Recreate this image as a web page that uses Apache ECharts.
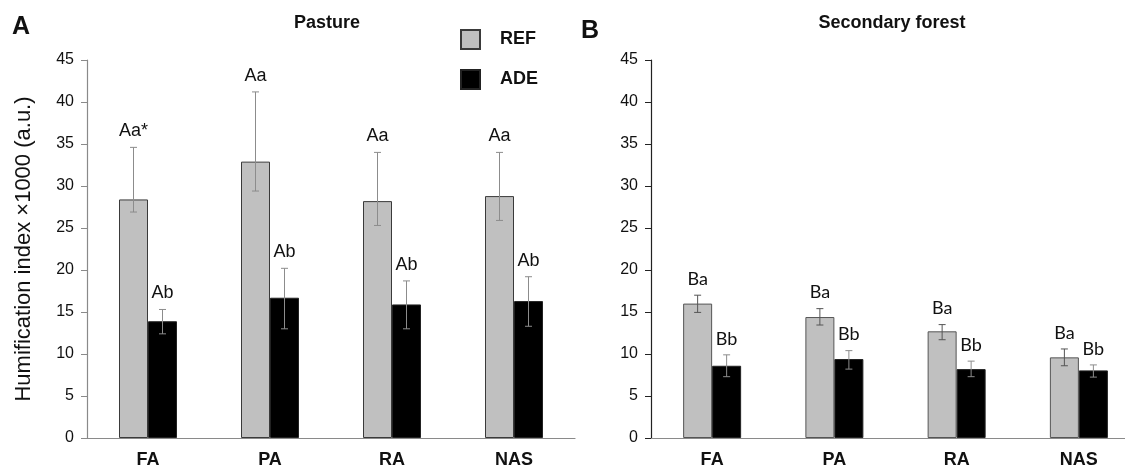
<!DOCTYPE html>
<html>
<head>
<meta charset="utf-8">
<script src="https://cdn.jsdelivr.net/npm/echarts@6/dist/echarts.min.js"></script>
<style>
  html, body { margin: 0; padding: 0; background: #fff; }
  #chart { width: 1125px; height: 470px; }
</style>
</head>
<body>
<div id="chart"></div>
<script>
// ---- data ----
const categories = ['FA', 'PA', 'RA', 'NAS'];
const seriesNames = ['REF', 'ADE'];

const pastureREF      = [28.4, 32.9, 28.2, 28.8];
const pastureREFLow   = [26.9, 29.4, 25.3, 25.9];
const pastureREFHigh  = [34.6, 41.2, 34.0, 34.0];
const pastureADE      = [13.9, 16.7, 15.9, 16.3];
const pastureADELow   = [12.4, 13.0, 13.0, 13.3];
const pastureADEHigh  = [15.3, 20.2, 18.7, 19.2];

const forestREF       = [16.0, 14.4, 12.7, 9.6];
const forestREFLow    = [14.95, 13.45, 11.7, 8.6];
const forestREFHigh   = [17.0, 15.4, 13.5, 10.6];
const forestADE       = [8.6, 9.4, 8.2, 8.05];
const forestADELow    = [7.3, 8.2, 7.3, 7.25];
const forestADEHigh   = [9.9, 10.4, 9.15, 8.7];

const pastureREFLetters = ['Aa*', 'Aa', 'Aa', 'Aa'];
const pastureADELetters = ['Ab', 'Ab', 'Ab', 'Ab'];
const forestREFLetters  = ['Ba', 'Ba', 'Ba', 'Ba'];
const forestADELetters  = ['Bb', 'Bb', 'Bb', 'Bb'];

const yMin = 0, yMax = 45, yStep = 5;
const panelTitles = ['Pasture', 'Secondary forest'];
const panelLetters = ['A', 'B'];
const yAxisTitle = 'Humification index \u00d71000 (a.u.)';

// ---- rendering ----
const BAR_W = 29;
const FONT = '"Liberation Sans", Arial, sans-serif';

function errData(low, high, letters) {
  return categories.map((c, i) => [i, low[i], high[i], letters[i]]);
}

function errSeries(gridIdx, low, high, letters, side, color, labelFont) {
  return {
    type: 'custom',
    xAxisIndex: gridIdx, yAxisIndex: gridIdx,
    data: errData(low, high, letters),
    encode: { x: 0, y: [1, 2] },
    clip: false,
    z: 5,
    silent: true,
    renderItem: function (params, api) {
      const lo = api.coord([api.value(0), api.value(1)]);
      const hi = api.coord([api.value(0), api.value(2)]);
      const x = lo[0] + side * BAR_W / 2;
      const cap = 3.5;
      const style = { stroke: color, lineWidth: 1 };
      return {
        type: 'group',
        children: [
          { type: 'line', shape: { x1: x, y1: lo[1], x2: x, y2: hi[1] }, style: style },
          { type: 'line', shape: { x1: x - cap, y1: hi[1], x2: x + cap, y2: hi[1] }, style: style },
          { type: 'line', shape: { x1: x - cap, y1: lo[1], x2: x + cap, y2: lo[1] }, style: style },
          { type: 'text', style: {
              text: api.value(3), x: x, y: hi[1] - 7,
              align: 'center', verticalAlign: 'bottom',
              font: '18px ' + labelFont, fill: '#111'
          } }
        ]
      };
    }
  };
}

function barSeries(gridIdx, name, data, color, border) {
  return {
    type: 'bar', name: name,
    xAxisIndex: gridIdx, yAxisIndex: gridIdx,
    data: data, barWidth: BAR_W, barGap: '0%',
    itemStyle: { color: color, borderColor: border, borderWidth: 1 },
    z: 2
  };
}

function xAxis(gridIdx) {
  return {
    type: 'category', gridIndex: gridIdx, data: categories,
    axisLine: { lineStyle: { color: '#8a8a8a', width: 1.2 } },
    axisTick: { alignWithLabel: true, length: 5, lineStyle: { color: '#333' } },
    axisLabel: { fontFamily: FONT, fontWeight: 'bold', fontSize: 18, color: '#111', margin: 13 },
    splitLine: { show: false }
  };
}

function yAxis(gridIdx, lineColor, withName) {
  const ax = {
    type: 'value', gridIndex: gridIdx, min: yMin, max: yMax, interval: yStep,
    axisLine: { show: true, lineStyle: { color: lineColor, width: 1.2 } },
    axisTick: { show: true, length: 6, lineStyle: { color: lineColor } },
    axisLabel: { fontFamily: FONT, fontSize: 16, color: '#111', margin: 13 },
    splitLine: { show: false }
  };
  if (withName) {
    ax.name = yAxisTitle;
    ax.nameLocation = 'middle';
    ax.nameGap = 52;
    ax.nameTextStyle = { fontFamily: FONT, fontSize: 22, color: '#111' };
  }
  return ax;
}

const chart = echarts.init(document.getElementById('chart'), null, { renderer: 'canvas' });
chart.setOption({
  backgroundColor: '#ffffff',
  animation: false,
  title: [
    { text: panelTitles[0], left: 327, top: 14, textAlign: 'center', padding: 0,
      textStyle: { fontFamily: FONT, fontWeight: 'bold', fontSize: 18, color: '#111' } },
    { text: panelTitles[1], left: 892, top: 14, textAlign: 'center', padding: 0,
      textStyle: { fontFamily: FONT, fontWeight: 'bold', fontSize: 18, color: '#111' } },
    { text: panelLetters[0], left: 12, top: 15, padding: 0,
      textStyle: { fontFamily: FONT, fontWeight: 'bold', fontSize: 25, color: '#111' } },
    { text: panelLetters[1], left: 581, top: 19, padding: 0,
      textStyle: { fontFamily: FONT, fontWeight: 'bold', fontSize: 25, color: '#111' } }
  ],
  legend: {
    data: seriesNames, orient: 'vertical', left: 460, top: 29, padding: 0,
    icon: 'rect', itemWidth: 19, itemHeight: 19, itemGap: 19,
    textStyle: { fontFamily: FONT, fontWeight: 'bold', fontSize: 18, color: '#111', padding: [0, 0, 0, 15] },
    selectedMode: false
  },
  grid: [
    { left: 87, width: 488, top: 60, bottom: 32, outerBoundsMode: 'none', containLabel: false },
    { left: 651, width: 489, top: 60, bottom: 32, outerBoundsMode: 'none', containLabel: false }
  ],
  xAxis: [xAxis(0), xAxis(1)],
  yAxis: [yAxis(0, '#8a8a8a', true), yAxis(1, '#222', false)],
  series: [
    barSeries(0, seriesNames[0], pastureREF, '#c0c0c0', '#3a3a3a'),
    barSeries(0, seriesNames[1], pastureADE, '#000000', '#222'),
    barSeries(1, seriesNames[0], forestREF, '#c0c0c0', '#555'),
    barSeries(1, seriesNames[1], forestADE, '#000000', '#222'),
    errSeries(0, pastureREFLow, pastureREFHigh, pastureREFLetters, -1, '#8c8c8c', FONT),
    errSeries(0, pastureADELow, pastureADEHigh, pastureADELetters, 1, '#8c8c8c', FONT),
    errSeries(1, forestREFLow, forestREFHigh, forestREFLetters, -1, '#555', 'Lato, ' + FONT),
    errSeries(1, forestADELow, forestADEHigh, forestADELetters, 1, '#8c8c8c', 'Lato, ' + FONT)
  ]
});
</script>
</body>
</html>
